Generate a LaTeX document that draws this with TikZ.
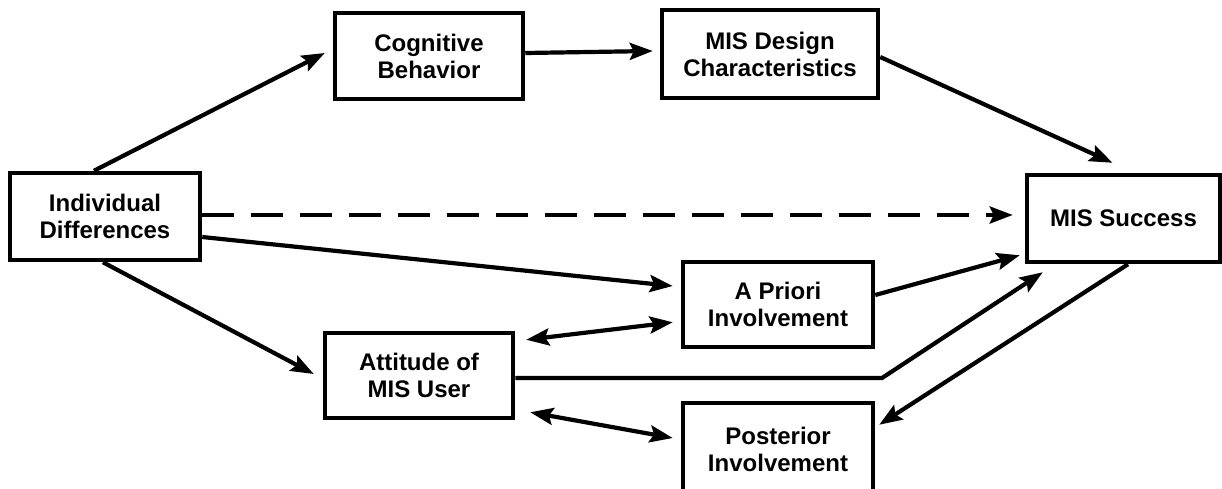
\documentclass[tikz,border=0pt]{standalone}
\usepackage{fontspec}
\setmainfont{Liberation Sans}
\usetikzlibrary{arrows.meta,calc}
\begin{document}
\begin{tikzpicture}[x=1pt,y=-1pt,
  box/.style={draw,line width=4.5pt,align=center,inner sep=0pt,
    font=\fontsize{24}{27}\selectfont\bfseries},
  tip/.tip={Stealth[length=23pt,width=17pt,inset=4pt]},
  arr/.style={line width=4.2pt,-tip},
  darr/.style={line width=4.2pt,tip-tip},
  dsh/.style={line width=4.2pt,dash pattern=on 32pt off 17pt,-tip}]
\clip (0,0) rectangle (1222,488);
\fill[white] (0,0) rectangle (1222,488);
\node[box,minimum width=190pt,minimum height=87pt] (ind) at (105,216.5) {Individual\\Differences};
\node[box,minimum width=188pt,minimum height=86pt] (cog) at (429,56) {Cognitive\\Behavior};
\node[box,minimum width=216pt,minimum height=88pt] (des) at (770,54) {MIS Design\\Characteristics};
\node[box,minimum width=193pt,minimum height=87pt] (suc) at (1123.5,218.5) {MIS Success};
\node[box,minimum width=190pt,minimum height=85pt] (apr) at (778,304.5) {A Priori\\Involvement};
\node[box,minimum width=188pt,minimum height=85pt] (att) at (419,375.5) {Attitude of\\MIS User};
\node[box,minimum width=190pt,minimum height=92pt] (pos) at (778,449) {Posterior\\Involvement};
\coordinate (bend) at (882,378);
\draw[arr] ([xshift=-11pt]ind.north) -- ([xshift=-8pt,yshift=3pt]cog.west);
\draw[arr] ([yshift=3pt]cog.east) -- ([xshift=-7pt,yshift=3pt]des.west);
\draw[arr] ([yshift=-3pt]des.east) -- ([xshift=-11pt,yshift=10pt]suc.north);
\draw[dsh] ([yshift=1.5pt]ind.east) -- ([xshift=-12pt,yshift=3.5pt]suc.west);
\draw[arr] ([yshift=-20.5pt]ind.east) -- ([xshift=-8pt,yshift=18.5pt]apr.west);
\draw[darr] ([xshift=11pt,yshift=-9pt]att.north east) -- ([xshift=-8pt,yshift=27pt]apr.south west);
\draw[darr] ([xshift=15pt,yshift=8pt]att.south east) -- ([xshift=-8pt,yshift=11pt]pos.west);
\draw[arr] ([yshift=-2.5pt]att.east) -- (bend) -- ([xshift=18pt,yshift=-8pt]suc.south west);
\draw[arr] ([yshift=9.5pt]apr.east) -- ([xshift=-5pt,yshift=9pt]suc.south west);
\draw[arr] ([xshift=4.5pt]suc.south) -- ([xshift=4pt,yshift=-24pt]pos.north east);
\draw[arr] ([xshift=-2pt]ind.south) -- ([xshift=-9pt,yshift=1.5pt]att.west);
\end{tikzpicture}
\end{document}
